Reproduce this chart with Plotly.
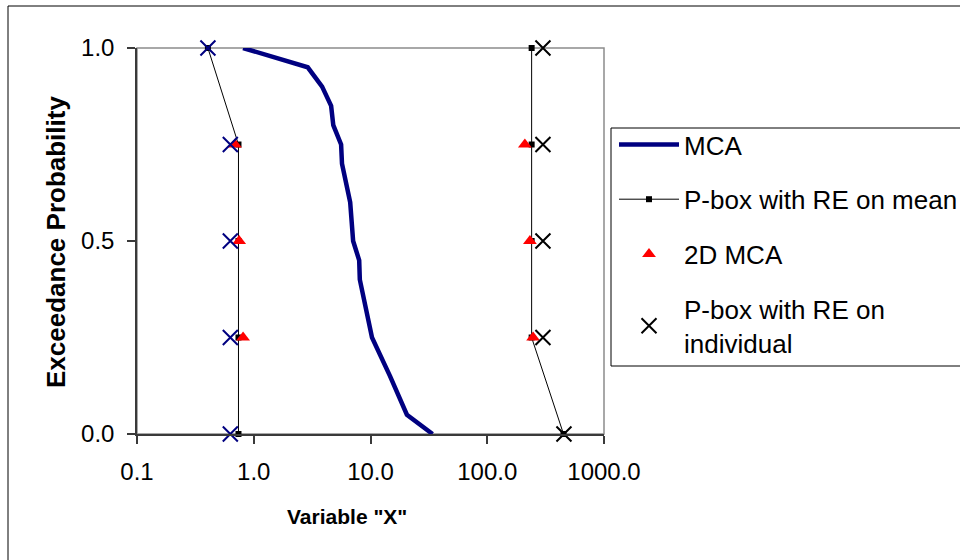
import plotly.graph_objects as go

# ---- data -------------------------------------------------------------
# Monte Carlo (MCA) exceedance curve
mca_x = [0.81, 2.9, 3.85, 4.6, 4.8, 5.6, 5.7, 6.7, 7.1, 8.0, 8.1, 10.3, 14.7, 20.5, 34.0]
mca_p = [1.00, 0.95, 0.90, 0.85, 0.80, 0.75, 0.70, 0.60, 0.50, 0.45, 0.40, 0.25, 0.15, 0.05, 0.00]

# P-box with random effects on the mean (lower and upper bounds)
pbm_lo_x = [0.405, 0.74, 0.74, 0.74, 0.74]
pbm_lo_p = [1.00, 0.75, 0.50, 0.25, 0.00]
pbm_hi_x = [240, 240, 240, 240, 450]
pbm_hi_p = [1.00, 0.75, 0.50, 0.25, 0.00]

# 2D Monte Carlo percentiles
mca2d_lo_x = [0.69, 0.75, 0.81]
mca2d_lo_p = [0.75, 0.50, 0.25]
mca2d_hi_x = [210, 232, 247]
mca2d_hi_p = [0.75, 0.50, 0.25]

# P-box with random effects on individual
pbi_lo_x = [0.405, 0.63, 0.63, 0.63, 0.63]
pbi_lo_p = [1.00, 0.75, 0.50, 0.25, 0.00]
pbi_hi_x = [300, 300, 300, 300, 454]
pbi_hi_p = [1.00, 0.75, 0.50, 0.25, 0.00]

x_tickvals = [0.1, 1, 10, 100, 1000]
x_ticktext = ["0.1", "1.0", "10.0", "100.0", "1000.0"]
y_tickvals = [0.0, 0.5, 1.0]
y_ticktext = ["0.0", "0.5", "1.0"]

# ---- layout geometry (pixels) -----------------------------------------
W, H = 960, 560
PL, PR, PT, PB = 137, 604, 48, 434
FONT = "Liberation Sans, Arial, sans-serif"


def px_x(px):
    return (px - PL) / (PR - PL)


def px_y(py):
    return (PB - py) / (PB - PT)


fig = go.Figure()

fig.add_trace(go.Scatter(
    x=mca_x, y=mca_p, mode="lines", name="MCA",
    line=dict(color="#000080", width=4.5), cliponaxis=False,
    legendgroup="g1",
))
fig.add_trace(go.Scatter(
    x=pbm_lo_x, y=pbm_lo_p, mode="lines+markers", name="P-box with RE on mean",
    line=dict(color="black", width=1),
    marker=dict(symbol="square", size=6, color="black"),
    cliponaxis=False, legendgroup="g2",
))
fig.add_trace(go.Scatter(
    x=pbm_hi_x, y=pbm_hi_p, mode="lines+markers", showlegend=False,
    line=dict(color="black", width=1),
    marker=dict(symbol="square", size=6, color="black"),
    cliponaxis=False, legendgroup="g2",
))
fig.add_trace(go.Scatter(
    x=mca2d_lo_x, y=mca2d_lo_p, mode="markers", name="2D MCA",
    marker=dict(symbol="triangle-up", size=12, color="#ff0000"),
    cliponaxis=False, legendgroup="g3",
))
fig.add_trace(go.Scatter(
    x=mca2d_hi_x, y=mca2d_hi_p, mode="markers", showlegend=False,
    marker=dict(symbol="triangle-up", size=12, color="#ff0000"),
    cliponaxis=False, legendgroup="g3",
))
fig.add_trace(go.Scatter(
    x=pbi_hi_x, y=pbi_hi_p, mode="markers", name="P-box with RE on<br>individual",
    marker=dict(symbol="x-thin", size=15, color="black", line=dict(width=2, color="black")),
    cliponaxis=False, legendgroup="g4",
))
fig.add_trace(go.Scatter(
    x=pbi_lo_x, y=pbi_lo_p, mode="markers", showlegend=False,
    marker=dict(symbol="x-thin", size=15, color="#000080", line=dict(width=2, color="#000080")),
    cliponaxis=False, legendgroup="g4",
))

axis_col = "#3a3a3a"
fig.update_xaxes(
    type="log", range=[-1, 3],
    tickvals=x_tickvals, ticktext=x_ticktext,
    ticks="outside", ticklen=8, tickwidth=1.5, tickcolor=axis_col,
    showline=True, linecolor=axis_col, linewidth=1.5,
    showgrid=False, zeroline=False,
    tickfont=dict(size=24, color="black", family=FONT),
    ticklabelstandoff=7,
)
fig.update_yaxes(
    range=[0, 1],
    tickvals=y_tickvals, ticktext=y_ticktext,
    ticks="outside", ticklen=8, tickwidth=1.5, tickcolor=axis_col,
    showline=True, linecolor=axis_col, linewidth=1.5,
    showgrid=False, zeroline=False,
    tickfont=dict(size=24, color="black", family=FONT),
    ticklabelstandoff=8,
)

shapes = [
    # plot-area border (top and right edges show in grey)
    dict(type="rect", xref="paper", yref="paper", x0=0, y0=0, x1=1, y1=1,
         line=dict(color="#8c8c8c", width=1.5), layer="below"),
    # chart frame
    dict(type="rect", xref="paper", yref="paper",
         x0=px_x(8), y0=px_y(620), x1=px_x(1000), y1=px_y(6),
         line=dict(color="black", width=1), layer="below"),
    # legend frame
    dict(type="rect", xref="paper", yref="paper",
         x0=px_x(611), y0=px_y(366), x1=px_x(1000), y1=px_y(128),
         line=dict(color="black", width=1), layer="below"),
]

annotations = [
    dict(text='<b>Variable "X"</b>', xref="paper", yref="paper",
         x=px_x(347), y=px_y(516), xanchor="center", yanchor="middle",
         showarrow=False, font=dict(size=21, color="black", family=FONT)),
    dict(text="<b>Exceedance Probability</b>", xref="paper", yref="paper",
         x=px_x(56), y=px_y(242), xanchor="center", yanchor="middle",
         textangle=-90, showarrow=False,
         font=dict(size=26, color="black", family=FONT)),
]

fig.update_layout(
    width=W, height=H,
    margin=dict(l=PL, r=W - PR, t=PT, b=H - PB, autoexpand=False),
    paper_bgcolor="white", plot_bgcolor="white",
    font=dict(family=FONT, color="black"),
    shapes=shapes, annotations=annotations,
    showlegend=True,
    legend=dict(
        xref="container", yref="container",
        x=614 / W, y=1 - 121 / H, xanchor="left", yanchor="top",
        borderwidth=0, bgcolor="rgba(0,0,0,0)",
        font=dict(size=26, color="black", family=FONT),
        itemwidth=60, traceorder="grouped", tracegroupgap=18,
    ),
)

fig.write_html("out.html")
